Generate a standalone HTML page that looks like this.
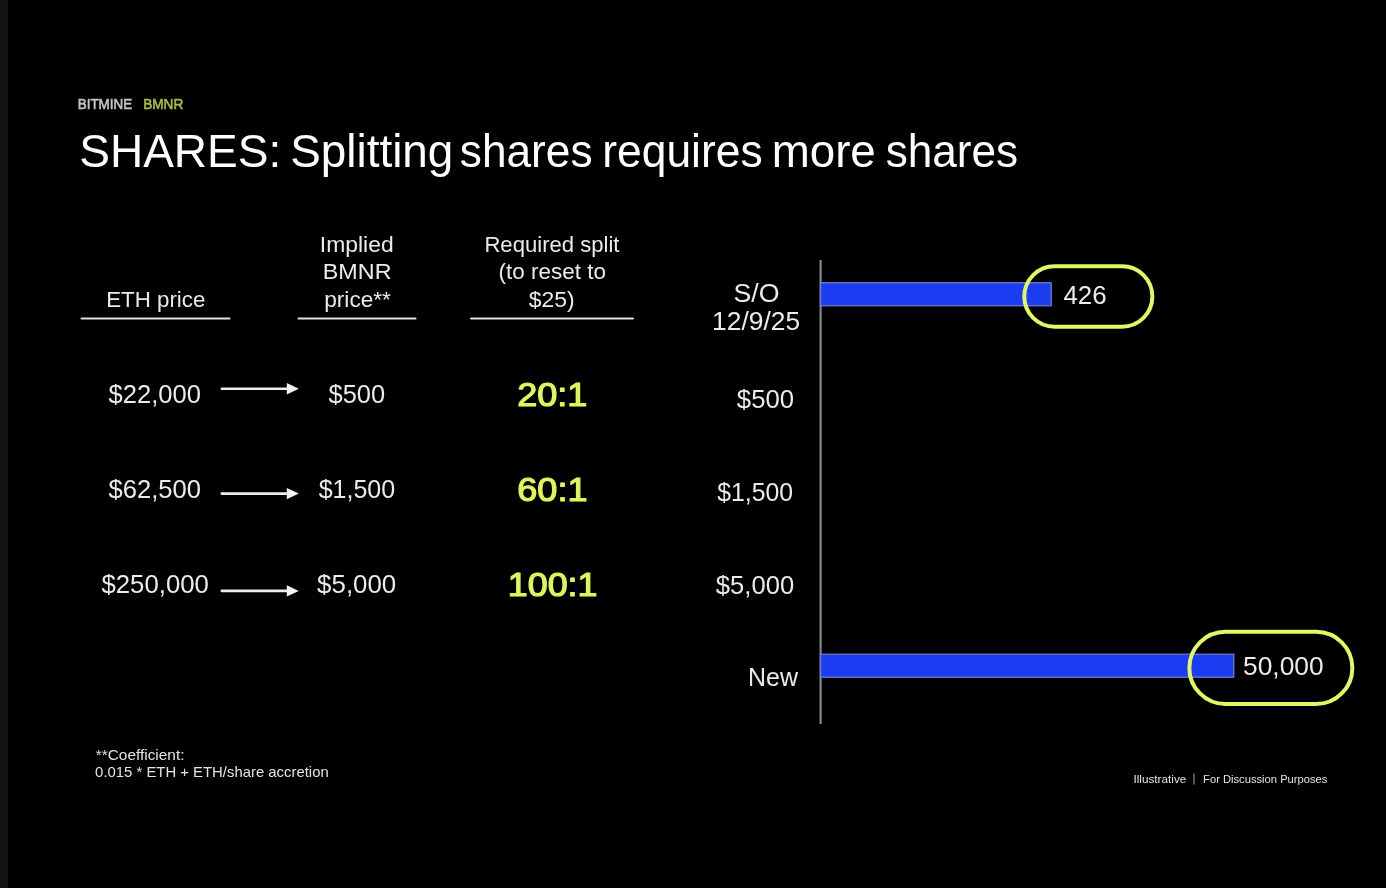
<!DOCTYPE html>
<html><head><meta charset="utf-8">
<style>
html,body{margin:0;padding:0;background:#000;width:1386px;height:888px;overflow:hidden}
svg{display:block;filter:blur(0.7px)}
text{font-family:"Liberation Sans",sans-serif}
</style></head><body>
<svg width="1386" height="888" viewBox="0 0 1386 888">
<rect x="0" y="0" width="1386" height="888" fill="#000"/>
<rect x="0" y="0" width="8" height="888" fill="#121211"/>
<g stroke="#e2e2e2" stroke-width="2" stroke-linecap="round">
<line x1="81.5" y1="318.4" x2="229.5" y2="318.4"/>
<line x1="298.5" y1="318.4" x2="415.5" y2="318.4"/>
<line x1="471" y1="318.4" x2="633" y2="318.4"/>
</g>
<g stroke="#eeeeee" stroke-width="2.6" stroke-linecap="round">
<line x1="221.8" y1="388.8" x2="288" y2="388.8"/>
<line x1="221.8" y1="493.6" x2="288" y2="493.6"/>
<line x1="221.8" y1="590.9" x2="288" y2="590.9"/>
</g>
<g fill="#f2f2f2">
<path d="M286.8 383.1 L298.8 388.8 L286.8 394.5 Z"/>
<path d="M286.8 487.9 L298.8 493.6 L286.8 499.3 Z"/>
<path d="M286.8 585.2 L298.8 590.9 L286.8 596.6 Z"/>
</g>
<rect x="819.5" y="260" width="2.2" height="464" fill="#858585"/>
<rect x="820.6" y="282.75" width="230.6" height="23" fill="#1c3cf2" stroke="#7084d0" stroke-width="1.2"/>
<rect x="820.6" y="654.2" width="413.15" height="23" fill="#1c3cf2" stroke="#7084d0" stroke-width="1.2"/>
<rect x="1024.3" y="266.2" width="128.05" height="60.6" rx="30.3" ry="30.3" fill="none" stroke="#e2f762" stroke-width="4"/>
<rect x="1189.35" y="631.7" width="163" height="72.35" rx="36.2" ry="36.2" fill="none" stroke="#e2f762" stroke-width="4"/>
<rect x="1193.4" y="773.5" width="1.2" height="11" fill="#8a8a8a"/>

<g id="texts">
<text x="77.73" y="108.8" font-size="14.5" font-weight="400" fill="#c4c4c4" stroke="#c4c4c4" stroke-width="0.6" stroke-linejoin="round" textLength="54.47" lengthAdjust="spacingAndGlyphs">BITMINE</text>
<text x="143.13" y="108.8" font-size="14.5" font-weight="400" fill="#a8bb42" stroke="#a8bb42" stroke-width="0.6" stroke-linejoin="round" textLength="40.11" lengthAdjust="spacingAndGlyphs">BMNR</text>
<text x="79.24" y="166.5" font-size="46" font-weight="400" fill="#ffffff" textLength="201.95" lengthAdjust="spacingAndGlyphs">SHARES:</text>
<text x="290.24" y="166.5" font-size="46" font-weight="400" fill="#ffffff" textLength="163.15" lengthAdjust="spacingAndGlyphs">Splitting</text>
<text x="459.84" y="166.5" font-size="46" font-weight="400" fill="#ffffff" textLength="132.67" lengthAdjust="spacingAndGlyphs">shares</text>
<text x="602.24" y="166.5" font-size="46" font-weight="400" fill="#ffffff" textLength="160.36" lengthAdjust="spacingAndGlyphs">requires</text>
<text x="771.64" y="166.5" font-size="46" font-weight="400" fill="#ffffff" textLength="104.19" lengthAdjust="spacingAndGlyphs">more</text>
<text x="885.64" y="166.5" font-size="46" font-weight="400" fill="#ffffff" textLength="132.56" lengthAdjust="spacingAndGlyphs">shares</text>
<text x="106.22" y="306.6" font-size="22.5" font-weight="400" fill="#ebebeb" textLength="99.13" lengthAdjust="spacingAndGlyphs">ETH price</text>
<text x="319.82" y="252.2" font-size="22.5" font-weight="400" fill="#ebebeb" textLength="73.81" lengthAdjust="spacingAndGlyphs">Implied</text>
<text x="322.82" y="279.2" font-size="22.5" font-weight="400" fill="#ebebeb" textLength="68.68" lengthAdjust="spacingAndGlyphs">BMNR</text>
<text x="324.22" y="306.6" font-size="22.5" font-weight="400" fill="#ebebeb" textLength="66.71" lengthAdjust="spacingAndGlyphs">price**</text>
<text x="484.42" y="252.4" font-size="22.5" font-weight="400" fill="#ebebeb" textLength="135.11" lengthAdjust="spacingAndGlyphs">Required split</text>
<text x="498.62" y="279.4" font-size="22.5" font-weight="400" fill="#ebebeb" textLength="107.25" lengthAdjust="spacingAndGlyphs">(to reset to</text>
<text x="528.82" y="306.6" font-size="22.5" font-weight="400" fill="#ebebeb" textLength="45.91" lengthAdjust="spacingAndGlyphs">$25)</text>
<text x="108.50" y="403.0" font-size="25" font-weight="400" fill="#ebebeb" textLength="92.42" lengthAdjust="spacingAndGlyphs">$22,000</text>
<text x="108.50" y="497.8" font-size="25" font-weight="400" fill="#ebebeb" textLength="92.42" lengthAdjust="spacingAndGlyphs">$62,500</text>
<text x="101.50" y="593.3" font-size="25" font-weight="400" fill="#ebebeb" textLength="107.32" lengthAdjust="spacingAndGlyphs">$250,000</text>
<text x="328.50" y="403.0" font-size="25" font-weight="400" fill="#ebebeb" textLength="56.61" lengthAdjust="spacingAndGlyphs">$500</text>
<text x="318.70" y="497.8" font-size="25" font-weight="400" fill="#ebebeb" textLength="76.51" lengthAdjust="spacingAndGlyphs">$1,500</text>
<text x="317.10" y="593.3" font-size="25" font-weight="400" fill="#ebebeb" textLength="79.17" lengthAdjust="spacingAndGlyphs">$5,000</text>
<text x="517.20" y="405.5" font-size="34" font-weight="400" fill="#e0f55a" stroke="#e0f55a" stroke-width="1.2" stroke-linejoin="round" textLength="70.27" lengthAdjust="spacingAndGlyphs">20:1</text>
<text x="517.30" y="500.5" font-size="34" font-weight="400" fill="#e0f55a" stroke="#e0f55a" stroke-width="1.2" stroke-linejoin="round" textLength="70.26" lengthAdjust="spacingAndGlyphs">60:1</text>
<text x="507.80" y="595.7" font-size="34" font-weight="400" fill="#e0f55a" stroke="#e0f55a" stroke-width="1.2" stroke-linejoin="round" textLength="89.71" lengthAdjust="spacingAndGlyphs">100:1</text>
<text x="733.44" y="301.7" font-size="26" font-weight="400" fill="#ebebeb" textLength="46.04" lengthAdjust="spacingAndGlyphs">S/O</text>
<text x="712.04" y="329.6" font-size="26" font-weight="400" fill="#ebebeb" textLength="88.04" lengthAdjust="spacingAndGlyphs">12/9/25</text>
<text x="736.87" y="407.8" font-size="25.5" font-weight="400" fill="#ebebeb" textLength="57.17" lengthAdjust="spacingAndGlyphs">$500</text>
<text x="717.27" y="500.6" font-size="25.5" font-weight="400" fill="#ebebeb" textLength="75.70" lengthAdjust="spacingAndGlyphs">$1,500</text>
<text x="715.87" y="594.1" font-size="25.5" font-weight="400" fill="#ebebeb" textLength="78.26" lengthAdjust="spacingAndGlyphs">$5,000</text>
<text x="748.07" y="686.4" font-size="25.5" font-weight="400" fill="#ebebeb" textLength="49.90" lengthAdjust="spacingAndGlyphs">New</text>
<text x="1063.47" y="303.7" font-size="25.5" font-weight="400" fill="#ebebeb" textLength="43.17" lengthAdjust="spacingAndGlyphs">426</text>
<text x="1243.07" y="674.8" font-size="25.5" font-weight="400" fill="#ebebeb" textLength="80.56" lengthAdjust="spacingAndGlyphs">50,000</text>
<text x="95.71" y="759.8" font-size="14.8" font-weight="400" fill="#e4e4e4" textLength="88.80" lengthAdjust="spacingAndGlyphs">**Coefficient:</text>
<text x="95.11" y="776.9" font-size="14.8" font-weight="400" fill="#e4e4e4" textLength="233.57" lengthAdjust="spacingAndGlyphs">0.015 * ETH + ETH/share accretion</text>
<text x="1133.49" y="782.5" font-size="11.8" font-weight="400" fill="#e4e4e4" textLength="52.78" lengthAdjust="spacingAndGlyphs">Illustrative</text>
<text x="1203.09" y="782.5" font-size="11.8" font-weight="400" fill="#e4e4e4" textLength="124.34" lengthAdjust="spacingAndGlyphs">For Discussion Purposes</text>
</g>
</svg>
</body></html>
